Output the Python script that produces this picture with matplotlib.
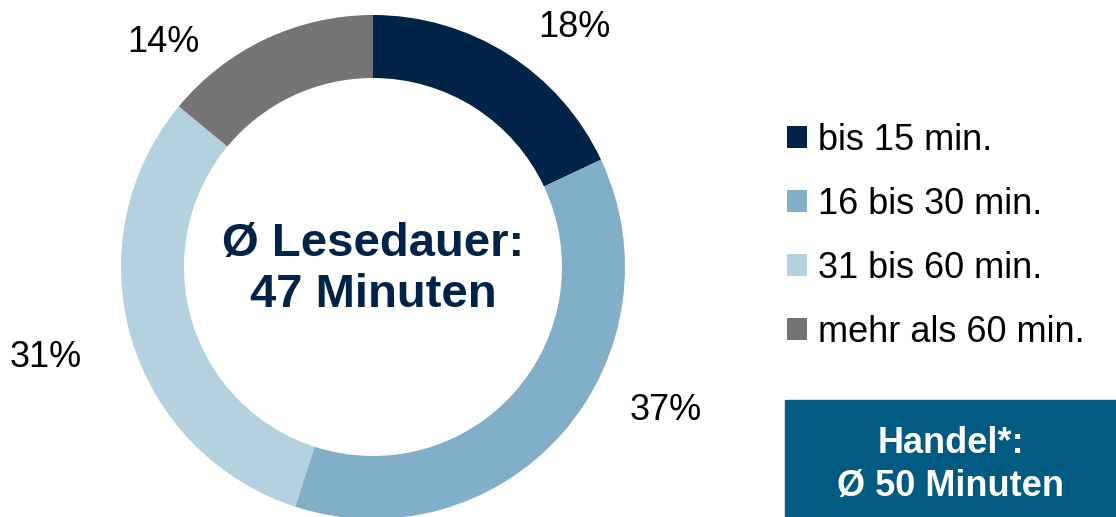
import numpy as np
import matplotlib.pyplot as plt
from matplotlib.patches import Rectangle

plt.rcParams['font.family'] = ['Liberation Sans', 'DejaVu Sans']

# -------------------------------------------------
# Daten
# -------------------------------------------------

categories = ['bis 15 min.', '16 bis 30 min.', '31 bis 60 min.', 'mehr als 60 min.']
shares = [18, 37, 31, 14]
colors = ['#002347', '#80AFC7', '#B3D1DF', '#767376']

center_lines = ['Ø Lesedauer:', '47 Minuten']
box_lines = ['Handel*:', 'Ø 50 Minuten']

# Label-Positionen (Datenkoordinaten, Radius = 1)
label_pos = [(0.80, 0.95), (1.16, -0.57), (-1.30, -0.36), (-0.83, 0.89)]

navy = '#002347'
box_color = '#005A82'

# -------------------------------------------------
# Figure
# -------------------------------------------------

W, H = 1116, 517
fig = plt.figure(figsize=(W/100, H/100), dpi=100)

# Donut: Mittelpunkt (373, 267) px, Radius 252 px
cx, cy, R = 373, H - 267, 252
ax = fig.add_axes([(cx - R)/W, (cy - R)/H, 2*R/W, 2*R/H])

wedges, _ = ax.pie(shares, colors=colors, startangle=90, counterclock=False,
                   radius=1, wedgeprops=dict(width=0.25, linewidth=0))
ax.set_xlim(-1, 1)
ax.set_ylim(-1, 1)
ax.set_aspect('equal')
ax.axis('off')

for (x, y), v in zip(label_pos, shares):
    ax.text(x, y, f'{v}%', ha='center', va='center', fontsize=26,
            color='black', clip_on=False)

ax.text(0, -0.01, '\n'.join(center_lines), ha='center', va='center',
        fontsize=34, fontweight='bold', color=navy, linespacing=1.2)

# Legende
fig.legend(wedges, categories, loc='upper left',
           bbox_to_anchor=(787/W, 1 - 123/H), frameon=False,
           fontsize=26, handlelength=0.55, handleheight=0.55,
           handletextpad=0.3, labelspacing=0.8, borderpad=0,
           borderaxespad=0)

# Kasten Handel
fig.patches.append(Rectangle((785/W, 0), 1 - 785/W, 117/H,
                             transform=fig.transFigure, color=box_color,
                             zorder=0))
fig.text((785 + W)/2/W, 52/H, '\n'.join(box_lines), ha='center',
         va='center', fontsize=26, fontweight='bold', color='white',
         linespacing=1.27)

fig.savefig('out.png', dpi=100)
